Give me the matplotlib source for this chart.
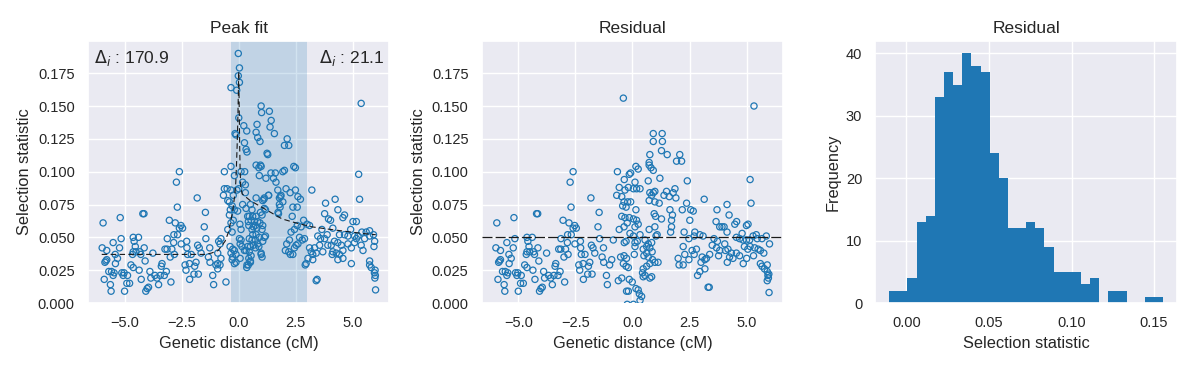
import numpy as np
import matplotlib
matplotlib.use("Agg")
import matplotlib.pyplot as plt
import seaborn as sns

sns.set_theme(style="darkgrid")
plt.rcParams['font.family'] = ['Liberation Sans', 'DejaVu Sans']

# ---------------- data ----------------
# points left of the peak (identical in both scatter panels)
left_x = [-5.94, -5.98, -5.78, -5.86, -5.82, -5.78, -5.50, -5.41, -5.69, -5.57, -5.46, -5.89, -5.62, -5.59, -5.40, -5.50,
          -5.19, -5.15, -5.22, -5.31, -5.12, -5.02, -5.06, -4.87, -4.90, -4.78, -5.00, -4.72, -4.65, -4.62, -4.39, -4.58,
          -4.53, -4.62, -4.50, -4.33, -4.14, -4.29, -4.62, -4.36, -4.27,
          -4.20, -4.15, -4.10, -4.07, -4.01, -3.95, -3.89, -3.85, -3.76, -3.67, -3.58, -3.51, -3.44, -3.39, -3.36, -3.23,
          -3.14, -3.26, -3.17, -2.97, -3.00, -3.04, -3.13,
          -2.84, -2.68, -2.78, -2.53, -2.46, -2.60, -2.60, -2.73, -2.69, -2.85, -2.93, -2.82, -2.52, -2.28, -2.27, -2.24,
          -2.35, -2.16, -2.31,
          -2.08, -1.93, -1.87, -1.96, -1.77, -2.15, -1.82, -1.46, -1.51, -1.80, -1.44, -1.73, -1.65, -1.27, -1.33, -1.26,
          -1.14, -1.10, -1.00]
left_y = [0.061, 0.042, 0.040, 0.031, 0.032, 0.033, 0.046, 0.037, 0.024, 0.024, 0.023, 0.018, 0.014, 0.009, 0.030, 0.021,
          0.065, 0.049, 0.042, 0.034, 0.023, 0.023, 0.021, 0.021, 0.015, 0.015, 0.009, 0.029, 0.037, 0.050, 0.050, 0.047,
          0.043, 0.039, 0.039, 0.039, 0.042, 0.037, 0.027, 0.025, 0.018,
          0.068, 0.068, 0.032, 0.009, 0.011, 0.012, 0.024, 0.019, 0.038, 0.021, 0.019, 0.014, 0.021, 0.028, 0.030, 0.041,
          0.041, 0.021, 0.024, 0.016, 0.035, 0.063, 0.049,
          0.052, 0.052, 0.061, 0.059, 0.057, 0.057, 0.100, 0.092, 0.073, 0.046, 0.041, 0.037, 0.045, 0.047, 0.042, 0.037,
          0.029, 0.030, 0.025,
          0.037, 0.028, 0.031, 0.022, 0.022, 0.018, 0.080, 0.069, 0.058, 0.044, 0.049, 0.042, 0.038, 0.042, 0.035, 0.031,
          0.021, 0.014, 0.029]

# peak-fit panel, points right of x = -1
peak_x = [-0.02, 0.03, -0.02, 0.03, -0.34, -0.09, 0.00, -0.16, -0.12, 0.22, 0.35, 0.98, 1.00, 1.34, 1.42, 1.37, 1.56,
          0.80, 0.76, 0.83, 0.93, 2.12, 2.00, 2.19, 0.25, 0.32, 0.36, 1.24,
          1.27, 0.76, 0.95, 0.98, 0.88, -0.34, -0.63, -0.19, 0.10, 0.26, 0.90, 1.19, 1.41, 1.60, 1.52, 1.63, 1.93, 2.00,
          2.41, 0.17, 0.29, -0.63, -0.51, -0.34, -0.24, -0.08, 0.00, 0.29, 0.76, 1.05, 1.12, 1.31, 1.71, 1.85, 2.07, 2.25,
          2.48, 1.78, 1.78, 1.72, 2.37, 2.34, -0.67, -0.48, -0.41, -0.29, -0.37, -0.19, -0.05, -0.41, -0.24, -0.34, -0.48,
          -0.29, 0.17, 0.32, 0.51, 0.58,
          0.46, 0.61, 0.76, 0.54, 0.69, 0.83, 0.73, 0.64, 0.58, 0.79, 0.93, 1.05, 1.02, 0.39, 0.42, 0.44, 0.05, 0.10,
          1.17, 0.90, 0.76, 0.61, 0.46, 0.58, 0.73, 0.83, 0.64, 0.51, 0.73, 0.88,
          0.39, 0.32, 0.46, 0.54, 0.44, 0.36, 0.51, 0.98, 1.02,
          -0.38, -0.26, -0.19, -0.34, -0.12, -0.27, -0.29, -0.12, 0.06, -0.19, 0.14, 0.25,
          -0.78, -0.88, -0.82, -0.92, -0.78, -0.92, -0.82, -0.92, -0.56, 0.03, 0.10, 0.06,
          2.10, 2.22, 2.04, 2.19, 2.29, 1.12, 1.17, 0.95, 1.02, 0.35, 0.42, 0.51, 1.83, 1.93, 1.81, 1.74, 1.10, 1.30,
          2.26, 1.05, 1.12, 0.98,
          5.36, 2.48, 5.25, 5.29, 3.20, 2.59, 2.70, 2.56, 4.22, 3.80, 4.34, 3.93, 4.02, 3.76, 4.63, 4.56, 5.00, 5.15,
          2.84, 2.99, 3.10, 2.56, 2.73, 2.44, 3.64, 3.87, 4.12, 3.76, 3.58, 3.46, 4.90, 5.39, 5.58, 5.73, 4.41, 4.63,
          4.78, 5.07, 5.22, 2.66, 2.88, 2.78, 2.59, 2.51, 2.44, 2.37, 3.10, 3.32, 3.17, 3.24, 3.39,
          3.54, 3.68, 3.90, 4.05, 4.19, 4.34, 4.12, 4.27, 4.49, 4.56, 4.78, 4.93, 5.07, 5.15, 5.36, 5.44, 5.51, 5.73,
          3.03, 2.95, 2.91, 3.24, 4.41, 4.56, 4.34, 4.09, 4.93, 5.73, 5.73, 5.80, 3.43, 3.39,
          5.90, 5.95, 5.92, 5.97, 5.94, 5.98, 5.96, 5.99]
peak_y = [0.190, 0.179, 0.173, 0.168, 0.164, 0.162, 0.141, 0.129, 0.128, 0.135, 0.131, 0.150, 0.145, 0.146, 0.139, 0.134,
          0.129, 0.136, 0.130, 0.126, 0.123, 0.125, 0.120, 0.120, 0.122, 0.117, 0.115, 0.114,
          0.113, 0.105, 0.105, 0.104, 0.103, 0.104, 0.100, 0.097, 0.100, 0.100, 0.097, 0.095, 0.099, 0.099, 0.095, 0.092,
          0.100, 0.101, 0.104, 0.092, 0.090, 0.087, 0.087, 0.086, 0.082, 0.086, 0.087, 0.084, 0.080, 0.078, 0.080, 0.082,
          0.086, 0.082, 0.087, 0.084, 0.086, 0.080, 0.075, 0.069, 0.073, 0.066, 0.082, 0.078, 0.077, 0.074, 0.071, 0.071,
          0.070, 0.067, 0.063, 0.061, 0.056, 0.054, 0.075, 0.072, 0.075, 0.071,
          0.066, 0.066, 0.066, 0.063, 0.062, 0.062, 0.059, 0.058, 0.056, 0.057, 0.061, 0.059, 0.056, 0.066, 0.062, 0.059,
          0.060, 0.056,
          0.051, 0.050, 0.052, 0.052, 0.049, 0.048, 0.048, 0.045, 0.044, 0.043, 0.042, 0.043,
          0.043, 0.040, 0.039, 0.036, 0.034, 0.029, 0.031, 0.038, 0.035,
          0.043, 0.041, 0.040, 0.038, 0.037, 0.035, 0.033, 0.031, 0.034, 0.030, 0.043, 0.040,
          0.049, 0.047, 0.045, 0.038, 0.034, 0.030, 0.029, 0.026, 0.016, 0.049, 0.048, 0.045,
          0.045, 0.048, 0.040, 0.039, 0.054, 0.072, 0.071, 0.069, 0.067, 0.027, 0.029, 0.032, 0.081, 0.077, 0.073, 0.068,
          0.079, 0.082, 0.037, 0.047, 0.050, 0.037,
          0.152, 0.103, 0.098, 0.079, 0.086, 0.081, 0.079, 0.073, 0.079, 0.076, 0.071, 0.064, 0.063, 0.068, 0.067, 0.065,
          0.062, 0.062, 0.063, 0.060, 0.059, 0.059, 0.058, 0.056, 0.056, 0.052, 0.057, 0.049, 0.049, 0.051, 0.056, 0.054,
          0.054, 0.055, 0.052, 0.052, 0.051, 0.051, 0.051, 0.050, 0.049, 0.048, 0.045, 0.044, 0.042, 0.037, 0.042, 0.042,
          0.039, 0.037, 0.038,
          0.044, 0.039, 0.044, 0.044, 0.047, 0.046, 0.039, 0.038, 0.044, 0.040, 0.045, 0.042, 0.046, 0.049, 0.044, 0.040,
          0.049, 0.051,
          0.034, 0.030, 0.029, 0.033, 0.037, 0.034, 0.033, 0.037, 0.030, 0.032, 0.029, 0.027, 0.018, 0.017,
          0.052, 0.047, 0.043, 0.025, 0.023, 0.021, 0.019, 0.010]

# residual panel, points right of x = -1
res_x = [-0.40, 0.91, 1.30, 0.91, 1.31, 0.76, 1.27, 1.52, 1.93, 2.07, 0.73, 0.73, 0.81, 0.91, 0.15, 0.25, -0.66, -0.08,
         -0.14, -0.36, 0.69, 1.20, 0.11, -0.18, 0.04, 0.18, 0.33, -0.58, -0.33, -0.69, -0.47, -0.37, -0.21, -0.08, -0.43,
         -0.28, 0.15, 0.76, 0.84, 0.91, 0.98, 0.73, 0.98, 1.17, 1.38, 1.49, 1.61, 1.78, 1.86, 1.90, 0.95, 1.01, 1.27,
         1.64, 1.75, 1.71, 1.71, 1.67, -0.47, -0.33, -0.14, 0.04, 0.18, -0.23, 0.11, 0.25, -0.37, -0.58, 0.73, 0.98,
         1.08, 1.03, -0.11, 0.04, 0.33, -0.84, -0.28, -0.36, 0.11, 0.21,
         0.55, 0.62, 0.47, 0.76, 0.86, 0.62, 0.50, 0.69, 0.88, 0.98, 1.12, 0.76, 0.62, 0.69, 0.84,
         0.11, 0.08, -0.52, -0.37, -0.26, -0.40, -0.28, -0.18, -0.91,
         -0.62, -0.47, 0.47, 0.44, 0.55, 0.47, 0.84, 0.76, -0.14, -0.01, -0.26, -0.18, 0.15, 0.25, 0.30, 0.40, 0.33,
         -0.23, 0.04, 2.00, 2.04,
         2.15, 5.32, 5.15, 5.19, 2.40, 3.14, 2.37, 2.18, 2.55, 2.66, 2.51, 2.26, 3.70, 4.14, 4.23, 4.56, 4.48, 3.66,
         3.82, 3.92, 4.01, 4.14, 4.99, 5.06, 4.80, 2.73, 2.95, 3.09, 2.47, 2.22, 2.70,
         3.57, 3.72, 4.04, 4.55, 4.69, 4.84, 4.99, 5.13, 5.28, 5.42, 5.46, 5.67, 5.86, 6.00,
         2.61, 2.80, 2.29, 2.70, 2.47, 2.22,
         3.05, 3.24, 3.17, 3.00, 3.38, 3.49, 3.68, 3.82, 3.77, 4.07, 4.18, 4.33, 4.25, 4.15, 4.40, 4.55, 4.69,
         2.95, 2.85, 3.17, 3.31, 3.36,
         4.90, 5.05, 5.15, 5.35, 5.50, 5.60, 5.75, 5.30, 5.00, 4.85,
         5.60, 5.67, 5.90, 5.78, 5.90, 5.93, 5.95, 5.90, 5.97, 5.98]
res_y = [0.156, 0.129, 0.129, 0.123, 0.123, 0.113, 0.116, 0.113, 0.108, 0.113, 0.107, 0.105, 0.103, 0.101, 0.104, 0.102,
         0.100, 0.099, 0.098, 0.094, 0.093, 0.095, 0.092, 0.088, 0.087, 0.087, 0.087, 0.088, 0.086, 0.082, 0.081, 0.077,
         0.077, 0.077, 0.074, 0.073, 0.071, 0.084, 0.082, 0.084, 0.085, 0.078, 0.077, 0.076, 0.082, 0.085, 0.081, 0.084,
         0.087, 0.080, 0.068, 0.066, 0.064, 0.071, 0.067, 0.063, 0.058, 0.054, 0.066, 0.065, 0.065, 0.064, 0.063, 0.061,
         0.058, 0.060, 0.058, 0.056, 0.056, 0.058, 0.052, 0.051, 0.053, 0.051, 0.052, 0.048, 0.047, 0.046, 0.046, 0.047,
         0.048, 0.043, 0.041, 0.042, 0.039, 0.038, 0.036, 0.035, 0.033, 0.031, 0.031, 0.030, 0.028, 0.045, 0.046,
         0.043, 0.037, 0.035, 0.036, 0.034, 0.030, 0.028, 0.027, 0.033,
         0.017, 0.019, 0.026, 0.023, 0.021, 0.020, 0.020, 0.019, 0.018, 0.016, 0.009, 0.009, 0.011, 0.010, 0.007, 0.005,
         0.002, -0.001, -0.001, 0.034, 0.029,
         0.108, 0.150, 0.094, 0.076, 0.093, 0.079, 0.076, 0.071, 0.071, 0.070, 0.063, 0.054, 0.071, 0.075, 0.067, 0.062,
         0.060, 0.062, 0.058, 0.058, 0.058, 0.054, 0.059, 0.060, 0.053, 0.054, 0.052, 0.051, 0.049, 0.043, 0.051,
         0.049, 0.047, 0.045, 0.050, 0.049, 0.048, 0.048, 0.048, 0.051, 0.052, 0.049, 0.049, 0.051, 0.045,
         0.040, 0.041, 0.037, 0.037, 0.033, 0.029,
         0.035, 0.034, 0.033, 0.031, 0.037, 0.044, 0.042, 0.040, 0.036, 0.040, 0.041, 0.038, 0.035, 0.031, 0.034, 0.038,
         0.036,
         0.024, 0.021, 0.026, 0.012, 0.012,
         0.043, 0.041, 0.043, 0.042, 0.041, 0.040, 0.038, 0.036, 0.034, 0.030,
         0.030, 0.028, 0.029, 0.026, 0.024, 0.021, 0.019, 0.017, 0.022, 0.008]

# fitted peak curve (dashed line in the first panel)
fit_x = [-6.0, -1.5, -1.2, -0.9, -0.6, -0.45, -0.34, -0.25, -0.17, -0.13, -0.10, -0.07, -0.04, -0.02, 0.0,
         0.02, 0.04, 0.06, 0.09, 0.15, 0.5, 1.2, 1.9, 2.5, 3.2, 4.2, 5.4, 6.0]
fit_y = [0.037, 0.037, 0.038, 0.040, 0.047, 0.054, 0.063, 0.072, 0.083, 0.092, 0.105, 0.120, 0.140, 0.158, 0.176,
         0.150, 0.120, 0.100, 0.088, 0.083, 0.078, 0.071, 0.064, 0.061, 0.058, 0.0556, 0.053, 0.052]
span_lo, span_hi = -0.34, 2.98
delta_left, delta_right = 170.9, 21.1
res_level = 0.050

# histogram of residual selection statistic
hist_edges = np.linspace(-0.0105, 0.1556, 31)
hist_counts = [2, 2, 4, 13, 14, 33, 37, 35, 40, 38, 37, 24, 20, 12, 12, 13, 12, 9, 5, 5, 5, 3, 4, 0, 2, 2, 0, 0, 1, 1]

# ---------------- figure ----------------
fig, axes = plt.subplots(1, 3, figsize=(11.91, 3.68), dpi=100)
fig.subplots_adjust(left=0.0739, right=0.9882, bottom=0.1766, top=0.8886, wspace=0.306)

TICK = 10.5
LAB = 11.8
TIT = 12.5
blue = '#1f77b4'
sc_kw = dict(s=20, facecolors='none', edgecolors=blue, linewidths=0.9, zorder=3)

ax = axes[0]
ax.axvspan(span_lo, span_hi, color=blue, alpha=0.2, lw=0, zorder=1)
ax.scatter(left_x + peak_x, left_y + peak_y, **sc_kw)
ax.plot(fit_x, fit_y, color='k', lw=0.8, ls=(0, (5, 3)), zorder=4)
ax.set_title('Peak fit', fontsize=TIT, color='.15')
ax.text(0.02, 0.975, r'$\Delta_i$ : %.1f' % delta_left, transform=ax.transAxes, ha='left', va='top',
        fontsize=12.5, color='.15')
ax.text(0.765, 0.975, r'$\Delta_i$ : %.1f' % delta_right, transform=ax.transAxes, ha='left', va='top',
        fontsize=12.5, color='.15')

ax = axes[1]
ax.scatter(left_x + res_x, left_y + res_y, **sc_kw)
ax.axhline(res_level, color='k', lw=0.9, ls=(0, (8, 2.5)), zorder=4)
ax.set_title('Residual', fontsize=TIT, color='.15')

for ax in axes[:2]:
    ax.set_xlim(-6.6, 6.6)
    ax.set_ylim(0, 0.1995)
    ax.set_xlabel('Genetic distance (cM)', fontsize=LAB, color='.15')
    ax.set_ylabel('Selection statistic', fontsize=LAB, color='.15')

ax = axes[2]
ax.hist(hist_edges[:-1], bins=hist_edges, weights=hist_counts, color=blue, edgecolor='none', lw=0)
ax.set_title('Residual', fontsize=TIT, color='.15')
ax.set_xlabel('Selection statistic', fontsize=LAB, color='.15')
ax.set_ylabel('Frequency', fontsize=LAB, color='.15')

for ax in axes:
    ax.tick_params(labelsize=TICK, colors='.15')

fig.savefig('out.png', dpi=100)
